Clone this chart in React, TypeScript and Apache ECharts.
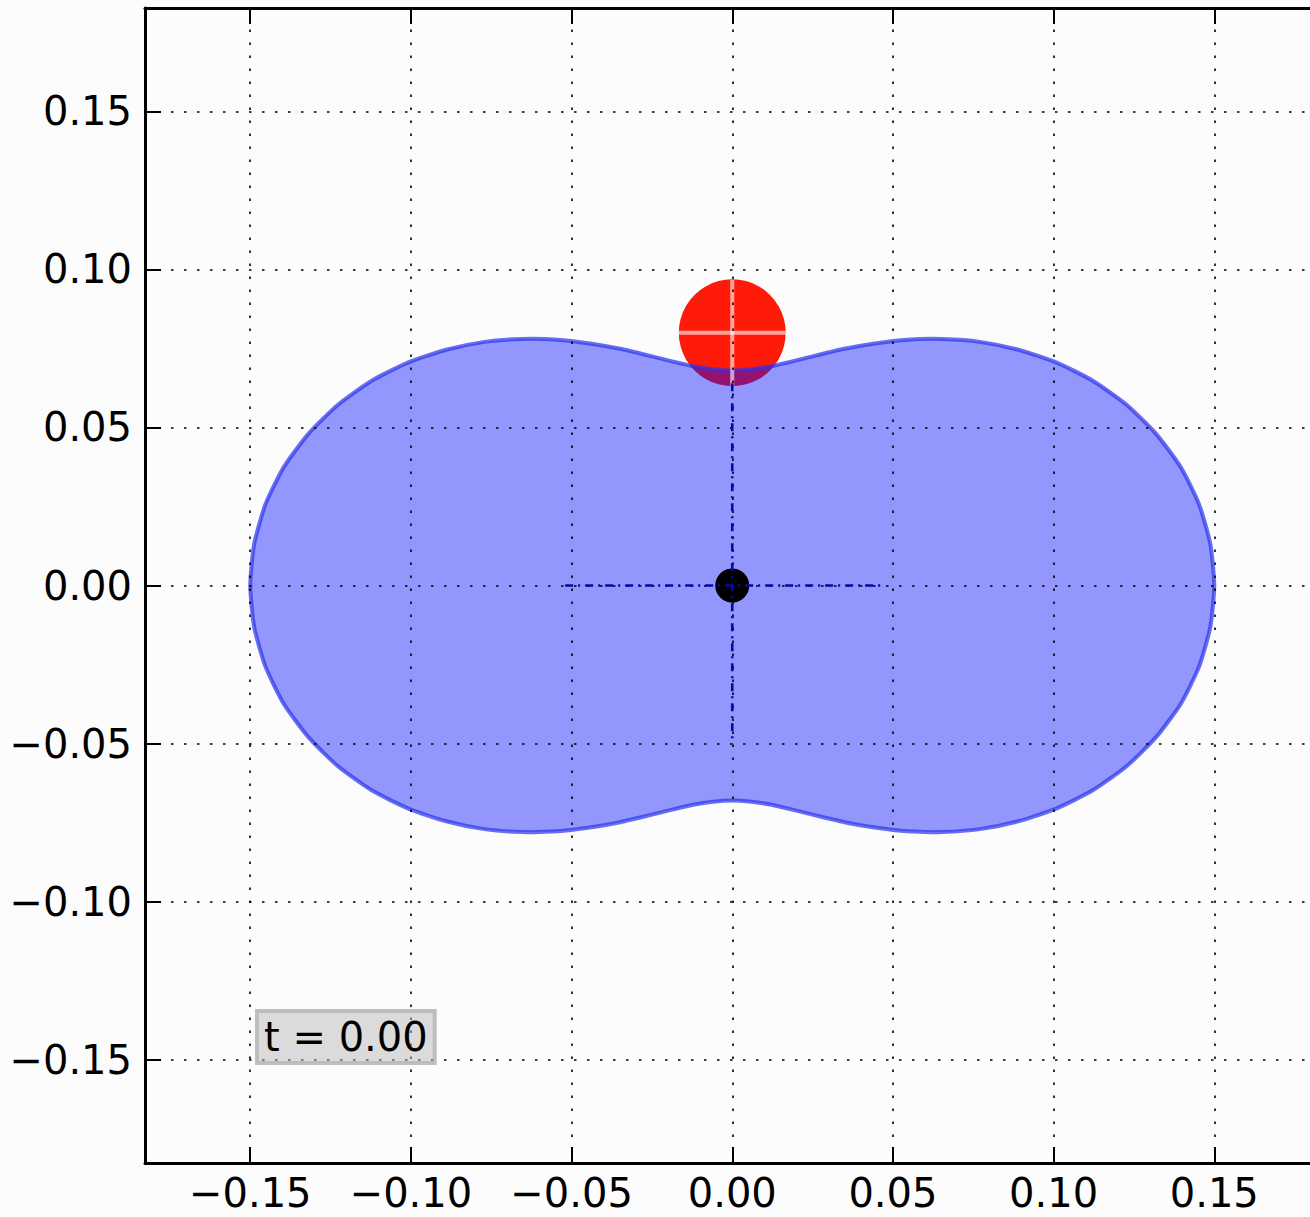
import React, { useEffect, useRef } from "react";
import * as echarts from "echarts";

// Axis ticks
const tickValues = [-0.15, -0.1, -0.05, 0, 0.05, 0.1, 0.15];
const axisMin = -0.18275;
const axisMax = 0.18275;

// Outline of the blue body
const shapeX = [
  0.150, 0.1488, 0.1453, 0.1396, 0.1319, 0.1227, 0.1122, 0.1008, 0.0890, 0.0771, 0.0655, 0.0545, 0.0443, 0.0349, 0.0265, 0.0190, 0.0122, 0.0060, 0,
  -0.0060, -0.0122, -0.0190, -0.0265, -0.0349, -0.0443, -0.0545, -0.0655, -0.0771, -0.0890, -0.1008, -0.1122, -0.1227, -0.1319, -0.1396, -0.1453, -0.1488, -0.150,
  -0.1488, -0.1453, -0.1396, -0.1319, -0.1227, -0.1122, -0.1008, -0.0890, -0.0771, -0.0655, -0.0545, -0.0443, -0.0349, -0.0265, -0.0190, -0.0122, -0.0060, 0,
  0.0060, 0.0122, 0.0190, 0.0265, 0.0349, 0.0443, 0.0545, 0.0655, 0.0771, 0.0890, 0.1008, 0.1122, 0.1227, 0.1319, 0.1396, 0.1453, 0.1488,
];
const shapeY = [
  0, 0.0130, 0.0256, 0.0374, 0.0480, 0.0572, 0.0648, 0.0706, 0.0746, 0.0771, 0.0780, 0.0778, 0.0766, 0.0749, 0.0729, 0.0710, 0.0694, 0.0684, 0.0680,
  0.0684, 0.0694, 0.0710, 0.0729, 0.0749, 0.0766, 0.0778, 0.0780, 0.0771, 0.0746, 0.0706, 0.0648, 0.0572, 0.0480, 0.0374, 0.0256, 0.0130, 0,
  -0.0130, -0.0256, -0.0374, -0.0480, -0.0572, -0.0648, -0.0706, -0.0746, -0.0771, -0.0780, -0.0778, -0.0766, -0.0749, -0.0729, -0.0710, -0.0694, -0.0684, -0.0680,
  -0.0684, -0.0694, -0.0710, -0.0729, -0.0749, -0.0766, -0.0778, -0.0780, -0.0771, -0.0746, -0.0706, -0.0648, -0.0572, -0.0480, -0.0374, -0.0256, -0.0130,
];

// Red ball
const ballCenter = [0, 0.08];
const ballRadius = 0.0167;
// Pivot
const pivot = [0, 0];
// Blue dash-dot reference lines
const hLine = [[-0.052, 0], [0.047, 0]];
const vLine = [[0, 0.064], [0, -0.05]];
const timeLabel = "t = 0.00";

const FONT = "DejaVu Sans";

const fmt = (v: number) => {
  const s = Math.abs(v).toFixed(2);
  return v < -1e-9 ? "\u2212" + s : s;
};

export default function App() {
  const ref = useRef<HTMLDivElement>(null);
  useEffect(() => {
    document.body.style.margin = "0";
    const chart = echarts.init(ref.current!, null, { renderer: "svg" });
    const axisCommon = {
      type: "value",
      min: axisMin,
      max: axisMax,
      axisLine: { show: true, onZero: false, lineStyle: { color: "#000", width: 3 } },
      axisTick: { show: true, inside: true, length: 16, customValues: tickValues, lineStyle: { color: "#000", width: 2 } },
      splitLine: { show: false },
    };
    const gridLineStyle = { color: "#000", width: 1.6, type: [2.5, 10.5] };
    chart.setOption({
      animation: false,
      backgroundColor: "#fcfcfc",
      grid: { left: 145, top: 8, width: 1174.5, height: 1155 },
      xAxis: [
        {
          ...axisCommon,
          position: "bottom",
          axisLabel: { show: true, customValues: tickValues, formatter: fmt, fontSize: 40, fontFamily: FONT, color: "#000", margin: 10 },
        },
        {
          ...axisCommon,
          position: "top",
          axisLabel: { show: false },
        },
      ],
      yAxis: [
        {
          ...axisCommon,
          position: "left",
          axisLabel: { show: true, customValues: tickValues, formatter: fmt, fontSize: 40, fontFamily: FONT, color: "#000", margin: 13 },
        },
      ],
      series: [
        {
          type: "scatter",
          z: 2,
          data: [ballCenter],
          symbol: "circle",
          symbolSize: (ballRadius / 0.05) * 160 * 2,
          itemStyle: { color: "#ff1a0a", opacity: 1 },
          silent: true,
        },
        {
          type: "custom",
          z: 3,
          coordinateSystem: "cartesian2d",
          data: [[0, 0]],
          silent: true,
          renderItem: (_p: any, api: any) => {
            const pts = shapeX.map((x, i) => api.coord([x, shapeY[i]]));
            return {
              type: "polygon",
              shape: { points: pts, smooth: 0.2 },
              style: { fill: "rgba(0,10,255,0.42)", stroke: "rgba(40,50,235,0.7)", lineWidth: 4 },
            };
          },
        },
        {
          type: "line",
          z: 4,
          data: [[ballCenter[0] - ballRadius, ballCenter[1]], [ballCenter[0] + ballRadius, ballCenter[1]]],
          symbol: "none",
          lineStyle: { color: "rgba(255,255,255,0.6)", width: 4 },
          silent: true,
        },
        {
          type: "line",
          z: 4,
          data: [[ballCenter[0], ballCenter[1] + ballRadius], [ballCenter[0], ballCenter[1] - ballRadius]],
          symbol: "none",
          lineStyle: { color: "rgba(255,255,255,0.6)", width: 4 },
          silent: true,
        },
        {
          type: "scatter",
          z: 5,
          data: [pivot],
          symbol: "circle",
          symbolSize: 34,
          itemStyle: { color: "#000", opacity: 1 },
          silent: true,
        },
        {
          type: "line",
          z: 6,
          data: hLine,
          symbol: "none",
          lineStyle: { color: "#0808a8", width: 2.6, type: [8, 5, 2, 5] },
          silent: true,
        },
        {
          type: "line",
          z: 6,
          data: vLine,
          symbol: "none",
          lineStyle: { color: "#0808a8", width: 2.6, type: [8, 5, 2, 5] },
          silent: true,
        },
        {
          type: "line",
          z: 7,
          data: [],
          silent: true,
          markLine: {
            silent: true,
            symbol: "none",
            label: { show: false },
            lineStyle: gridLineStyle,
            data: [
              ...tickValues.map((v) => ({ xAxis: v })),
              ...tickValues.map((v) => ({ yAxis: v })),
            ],
          },
        },
      ],
      graphic: [
        {
          type: "text",
          left: 255,
          top: 1009,
          z: 100,
          style: {
            text: timeLabel,
            font: `40px "${FONT}"`,
            fill: "#000",
            backgroundColor: "rgba(185,185,185,0.5)",
            borderColor: "rgba(150,150,150,0.6)",
            borderWidth: 2,
            padding: [3, 7, 3, 7],
            lineHeight: 46,
          },
        },
      ],
    });
    return () => chart.dispose();
  }, []);
  return (
    <div style={{ width: 1310, height: 1217, overflow: "hidden" }}>
      <div ref={ref} style={{ width: 1340, height: 1217 }} />
    </div>
  );
}
